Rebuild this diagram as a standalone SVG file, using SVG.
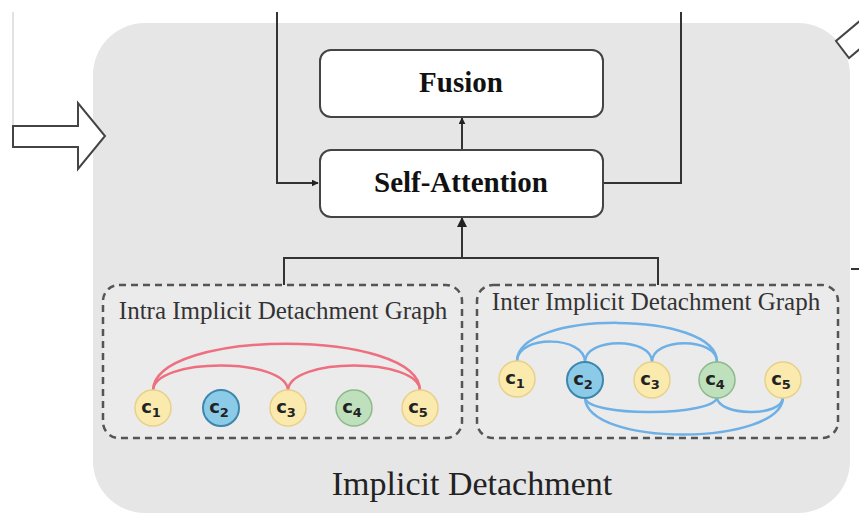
<svg xmlns="http://www.w3.org/2000/svg" width="859" height="515" viewBox="0 0 859 515">
  <defs>
    <style>
      .panel { fill: #e6e6e6; }
      .box { fill: #ffffff; stroke: #444; stroke-width: 2; }
      .title { font-family: "Liberation Serif", "Times New Roman", serif; font-weight: bold; font-size: 29px; fill: #111; text-anchor: middle; }
      .gtitle { font-family: "Liberation Serif", "Times New Roman", serif; font-size: 25px; fill: #333; text-anchor: middle; }
      .caption { font-family: "Liberation Serif", "Times New Roman", serif; font-size: 34px; fill: #222; text-anchor: middle; }
      .dash { fill: #ebebeb; stroke: #555; stroke-width: 2.5; stroke-dasharray: 7 5; }
      .wire { fill: none; stroke: #333; stroke-width: 2; }
      .hollow { fill: #ffffff; stroke: #444; stroke-width: 2; stroke-linejoin: miter; }
      .red { fill: none; stroke: #ee6f7f; stroke-width: 2.5; }
      .blue { fill: none; stroke: #6eb0e6; stroke-width: 2.5; }
      .cy { fill: #fbeaae; stroke: #e8d08a; stroke-width: 1.5; }
      .cb { fill: #8ccbe8; stroke: #3d86ad; stroke-width: 2; }
      .cg { fill: #bfe0bd; stroke: #8db98b; stroke-width: 1.5; }
      .lbl { font-family: "DejaVu Sans", "Liberation Sans", sans-serif; font-weight: bold; font-size: 18px; fill: #222; text-anchor: middle; }
      .sub { font-size: 13px; }
    </style>
    <marker id="arr" viewBox="0 0 10 10" refX="9" refY="5" markerWidth="7" markerHeight="7" orient="auto" markerUnits="userSpaceOnUse">
      <path d="M0,0 L10,5 L0,10 z" fill="#222"/>
    </marker>
    <marker id="arrL" viewBox="0 0 10 10" refX="9" refY="5" markerWidth="10" markerHeight="10" orient="auto" markerUnits="userSpaceOnUse">
      <path d="M0,0 L10,5 L0,10 z" fill="#222"/>
    </marker>
  </defs>

  <!-- faint guide line on the far left -->
  <line x1="13" y1="12" x2="13" y2="128" stroke="#e2e2e2" stroke-width="2"/>

  <!-- module panel -->
  <rect id="panel" class="panel" x="93" y="23" width="757" height="490" rx="52"/>

  <!-- incoming hollow arrow -->
  <polygon id="in-arrow" class="hollow" points="13,126 78,126 78,103 105,136 78,169 78,147 13,147"/>
  <!-- outgoing hollow arrow, clipped by the edge -->
  <polygon id="out-arrow" class="hollow" points="861,20 836,41 849,58 861,48"/>
  <!-- stub on the right edge -->
  <line x1="851" y1="269" x2="859" y2="269" stroke="#333" stroke-width="2"/>

  <g id="connectors">
    <!-- left feed into Self-Attention -->
    <polyline class="wire" points="277,12 277,183 318,183" marker-end="url(#arr)"/>
    <!-- right feed -->
    <polyline class="wire" points="681,12 681,183 603,183"/>
    <!-- Self-Attention to Fusion -->
    <line class="wire" x1="462" y1="150" x2="462" y2="118" marker-end="url(#arr)"/>
    <!-- graphs to Self-Attention -->
    <polyline class="wire" points="284,286 284,258 658,258 658,286"/>
    <line class="wire" x1="462" y1="258" x2="462" y2="218" marker-end="url(#arrL)"/>
  </g>

  <g id="fusion">
    <rect class="box" x="320" y="50" width="283" height="67" rx="11"/>
    <text class="title" x="461" y="92">Fusion</text>
  </g>

  <g id="self-attention">
    <rect class="box" x="320" y="150" width="283" height="67" rx="11"/>
    <text class="title" x="461" y="192">Self-Attention</text>
  </g>

  <g id="intra-graph">
    <rect class="dash" x="103" y="285" width="359" height="153" rx="16"/>
    <text class="gtitle" x="283" y="319">Intra Implicit Detachment Graph</text>
    <path class="red" d="M153,391 C153,328 420,328 420,391"/>
    <path class="red" d="M153,391 C153,357 288,357 288,391"/>
    <path class="red" d="M288,391 C288,357 420,357 420,391"/>
    <g id="intra-c1"><circle class="cy" cx="153" cy="408" r="18"/><text class="lbl" x="151" y="413">c<tspan class="sub" dy="4">1</tspan></text></g>
    <g id="intra-c2"><circle class="cb" cx="221" cy="408" r="18"/><text class="lbl" x="219" y="413">c<tspan class="sub" dy="4">2</tspan></text></g>
    <g id="intra-c3"><circle class="cy" cx="288" cy="408" r="18"/><text class="lbl" x="286" y="413">c<tspan class="sub" dy="4">3</tspan></text></g>
    <g id="intra-c4"><circle class="cg" cx="354" cy="408" r="18"/><text class="lbl" x="352" y="413">c<tspan class="sub" dy="4">4</tspan></text></g>
    <g id="intra-c5"><circle class="cy" cx="420" cy="408" r="18"/><text class="lbl" x="418" y="413">c<tspan class="sub" dy="4">5</tspan></text></g>
  </g>

  <g id="inter-graph">
    <rect class="dash" x="477" y="285" width="361" height="153" rx="16"/>
    <text class="gtitle" x="656" y="310">Inter Implicit Detachment Graph</text>
    <!-- upper edges -->
    <path class="blue" d="M517,361 C517,310 717,310 717,362"/>
    <path class="blue" d="M517,361 C517,335 585,335 585,362"/>
    <path class="blue" d="M585,362 C585,337 652,337 652,362"/>
    <path class="blue" d="M652,362 C652,337 717,337 717,362"/>
    <!-- lower edges -->
    <path class="blue" d="M585,397 C585,418 717,416 717,397"/>
    <path class="blue" d="M717,397 C717,416 783,418 783,397"/>
    <path class="blue" d="M585,397 C585,448 783,446 783,397"/>
    <g id="inter-c1"><circle class="cy" cx="517" cy="379" r="18"/><text class="lbl" x="515" y="384">c<tspan class="sub" dy="4">1</tspan></text></g>
    <g id="inter-c2"><circle class="cb" cx="585" cy="380" r="18"/><text class="lbl" x="583" y="385">c<tspan class="sub" dy="4">2</tspan></text></g>
    <g id="inter-c3"><circle class="cy" cx="652" cy="380" r="18"/><text class="lbl" x="650" y="385">c<tspan class="sub" dy="4">3</tspan></text></g>
    <g id="inter-c4"><circle class="cg" cx="717" cy="380" r="18"/><text class="lbl" x="715" y="385">c<tspan class="sub" dy="4">4</tspan></text></g>
    <g id="inter-c5"><circle class="cy" cx="783" cy="380" r="18"/><text class="lbl" x="781" y="385">c<tspan class="sub" dy="4">5</tspan></text></g>
  </g>

  <text id="caption" class="caption" x="472" y="495">Implicit Detachment</text>
</svg>
